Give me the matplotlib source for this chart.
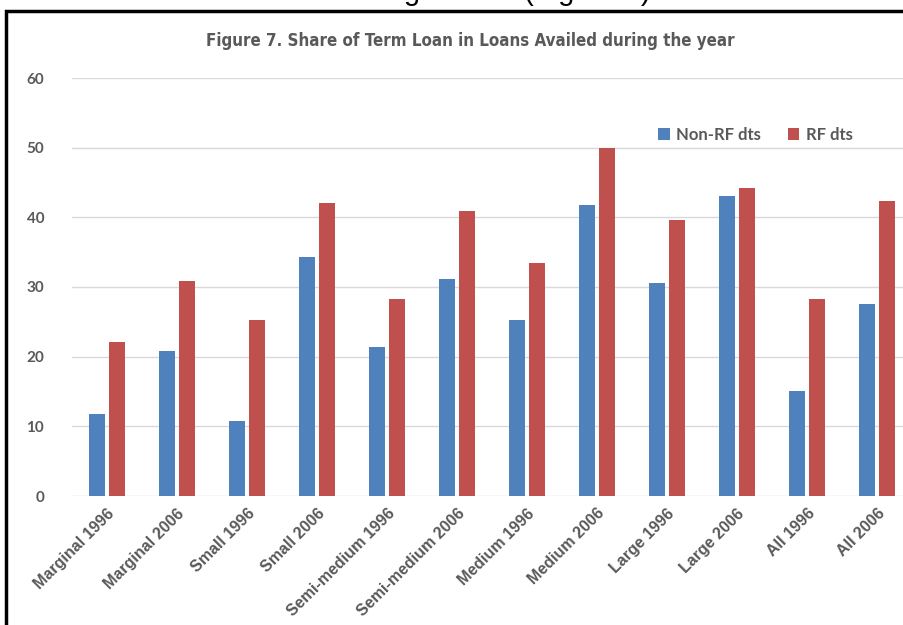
import matplotlib
matplotlib.use('Agg')
import matplotlib.pyplot as plt
import numpy as np
from matplotlib.patches import Rectangle

categories = ['Marginal 1996', 'Marginal 2006', 'Small 1996', 'Small 2006',
              'Semi-medium 1996', 'Semi-medium 2006', 'Medium 1996', 'Medium 2006',
              'Large 1996', 'Large 2006', 'All 1996', 'All 2006']
non_rf = [11.8, 20.8, 10.7, 34.3, 21.4, 31.1, 25.2, 41.7, 30.6, 43.0, 15.1, 27.5]
rf = [22.1, 30.9, 25.2, 42.1, 28.3, 40.9, 33.5, 49.9, 39.6, 44.2, 28.3, 42.3]
yticks = [0, 10, 20, 30, 40, 50, 60]

blue = '#4F81BD'
red = '#C0504D'
grey = '#595959'

W, H = 904, 625
fig = plt.figure(figsize=(W / 100, H / 100), dpi=100)

# cropped line of the surrounding page text
fig.text(651 / W, 1.0, 'borrowing to total (Figure 7)', ha='right', va='baseline',
         fontsize=21, family='Liberation Sans', color='black')

# black frame of the pasted chart (cut off at right and bottom)
frame = Rectangle((6.5 / W, -0.1), 1.2, (H - 11.5) / H + 0.1, transform=fig.transFigure,
                  fill=False, edgecolor='black', linewidth=2.5, clip_on=False)
fig.patches.append(frame)

ax = fig.add_axes([72 / W, (H - 496) / H, 840 / W, (496 - 78) / H])
x = np.arange(len(categories))
bw = 0.22
ax.bar(x - 0.145, non_rf, bw, color=blue, label='Non-RF dts', zorder=3)
ax.bar(x + 0.145, rf, bw, color=red, label='RF dts', zorder=3)

ax.set_xlim(-0.5, len(categories) - 0.5)
ax.set_ylim(0, 60)
ax.set_yticks(yticks)
ax.grid(axis='y', color='#D9D9D9', linewidth=1, zorder=0)
for s in ax.spines.values():
    s.set_visible(False)
ax.tick_params(length=0)
ax.tick_params(axis='y', pad=20)
for t in ax.get_yticklabels():
    t.set_fontfamily('Lato')
    t.set_fontweight('bold')
    t.set_fontsize(11)
    t.set_color(grey)

ax.set_xticks(x)
ax.set_xticklabels(categories, rotation=45, ha='right', va='top', rotation_mode='anchor',
                   fontsize=11.5, fontweight='bold', family='Liberation Sans', color=grey)
ax.tick_params(axis='x', pad=7)

fig.text(470 / W, 1 - 41 / H, 'Figure 7. Share of Term Loan in Loans Availed during the year',
         ha='center', va='center', fontsize=12.2, family='DejaVu Sans', fontstretch='condensed',
         fontweight='bold', color=grey)

leg = fig.legend(loc='center right', bbox_to_anchor=(868 / W, 1 - 135 / H), ncol=2,
                 frameon=False, handlelength=0.7, handleheight=0.7, handletextpad=0.4,
                 columnspacing=1.6, prop={'family': 'Lato', 'weight': 'bold', 'size': 12})
for t in leg.get_texts():
    t.set_color(grey)

fig.savefig('out.png', dpi=100)
